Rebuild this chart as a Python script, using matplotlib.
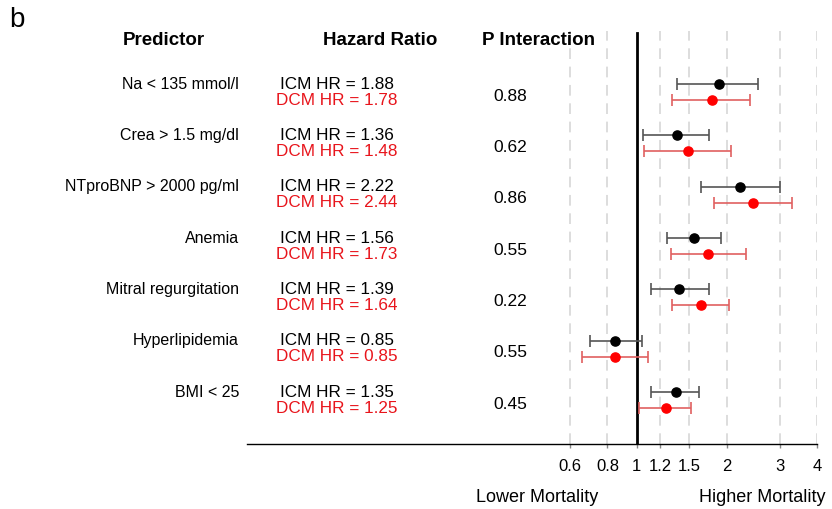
import numpy as np
import matplotlib.pyplot as plt
from matplotlib.transforms import blended_transform_factory

plt.rcParams['font.family'] = ['Liberation Sans', 'DejaVu Sans']

predictors = ["Na < 135 mmol/l", "Crea > 1.5 mg/dl", "NTproBNP > 2000 pg/ml",
              "Anemia", "Mitral regurgitation", "Hyperlipidemia", "BMI < 25"]
icm_hr = [1.88, 1.36, 2.22, 1.56, 1.39, 0.85, 1.35]
icm_lo = [1.37, 1.05, 1.64, 1.26, 1.12, 0.70, 1.12]
icm_hi = [2.55, 1.75, 3.02, 1.92, 1.74, 1.04, 1.62]
dcm_hr = [1.78, 1.48, 2.44, 1.73, 1.64, 0.85, 1.25]
dcm_lo = [1.31, 1.06, 1.81, 1.30, 1.31, 0.66, 1.02]
dcm_hi = [2.40, 2.07, 3.29, 2.31, 2.04, 1.09, 1.52]
p_inter = ["0.88", "0.62", "0.86", "0.55", "0.22", "0.55", "0.45"]
ticks = [0.6, 0.8, 1, 1.2, 1.5, 2, 3, 4]
tick_labels = ["0.6", "0.8", "1", "1.2", "1.5", "2", "3", "4"]

W, H = 832, 509
fig = plt.figure(figsize=(W / 100, H / 100), dpi=100)
# axes spans the bottom axis line; text columns sit to the left of the data
ax = fig.add_axes([247 / W, 1 - 444 / H, 570 / W, 413 / H])
ax.set_xscale("log")
ax.set_xlim(0.0502, 4.0)
ax.set_ylim(6.857, -1.19)

rows = np.arange(len(predictors))
off = 0.156
y_icm = rows - off
y_dcm = rows + off

for t in ticks:
    if t == 1:
        continue
    ax.axvline(t, color="#d3d3d3", lw=1.1, ls=(0, (7, 5)), zorder=0)
ax.axvline(1, color="black", lw=2.0, ymax=0.995, zorder=1)

icm = np.array(icm_hr)
dcm = np.array(dcm_hr)
ax.errorbar(icm, y_icm, xerr=[icm - np.array(icm_lo), np.array(icm_hi) - icm],
            fmt="none", ecolor="#555555", elinewidth=1.2, capsize=4, capthick=1.2, zorder=2)
ax.errorbar(dcm, y_dcm, xerr=[dcm - np.array(dcm_lo), np.array(dcm_hi) - dcm],
            fmt="none", ecolor="#e06060", elinewidth=1.2, capsize=4, capthick=1.2, zorder=2)
ax.plot(icm, y_icm, "o", color="black", ms=6.6, zorder=3)
ax.plot(dcm, y_dcm, "o", color="#ff0000", ms=6.6, zorder=3)

for s in ["top", "right", "left"]:
    ax.spines[s].set_visible(False)
ax.spines["bottom"].set_linewidth(1.0)
ax.set_yticks([])
ax.set_xticks(ticks)
ax.set_xticks([], minor=True)
ax.set_xticklabels(tick_labels, fontsize=12)
ax.tick_params(axis="x", length=3, width=1, color="#888888", pad=8)

tr = blended_transform_factory(fig.transFigure, ax.transData)
hdr_y = -1.013
ax.text(164 / W, hdr_y, "Predictor", transform=tr, ha="center", va="center",
        fontsize=13.5, fontweight="bold")
ax.text(380 / W, hdr_y, "Hazard Ratio", transform=tr, ha="center", va="center",
        fontsize=13.5, fontweight="bold")
ax.text(538 / W, hdr_y, "P Interaction", transform=tr, ha="center", va="center",
        fontsize=13.5, fontweight="bold")

for i, name in enumerate(predictors):
    ax.text(239 / W, y_icm[i], name, transform=tr, ha="right", va="center", fontsize=11.5)
    ax.text(337 / W, y_icm[i], f"ICM HR = {icm_hr[i]:.2f}", transform=tr,
            ha="center", va="center", fontsize=12.3, color="black")
    ax.text(337 / W, y_dcm[i], f"DCM HR = {dcm_hr[i]:.2f}", transform=tr,
            ha="center", va="center", fontsize=12.3, color="#e8141b")
    ax.text(510 / W, rows[i] + 0.08, p_inter[i], transform=tr,
            ha="center", va="center", fontsize=12.5)

fig.text(537 / W, 1 - 497 / H, "Lower Mortality", ha="center", va="center", fontsize=13)
fig.text(762 / W, 1 - 497 / H, "Higher Mortality", ha="center", va="center", fontsize=13)
fig.text(9 / W, 1 - 20 / H, "b", ha="left", va="center", fontsize=20)

fig.savefig("out.png", dpi=100)
